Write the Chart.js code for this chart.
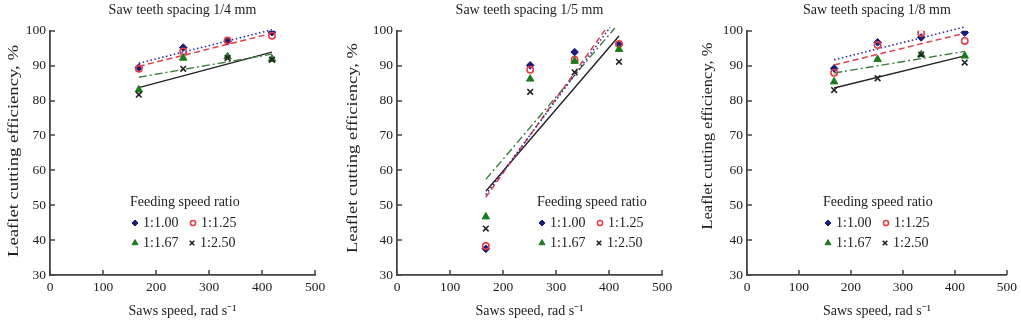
<!DOCTYPE html>
<html>
<head>
<meta charset="utf-8">
<script src="https://cdn.jsdelivr.net/npm/chart.js@4.4.1/dist/chart.umd.min.js"></script>
<style>
  body { margin: 0; background: #fff; }
  #wrap { position: relative; width: 1021px; height: 322px; }
  .panel { position: absolute; top: 0; height: 322px; }
</style>
</head>
<body>
<div id="wrap">
  <div class="panel" style="left:0;width:340px"><canvas id="c0"></canvas></div>
  <div class="panel" style="left:340px;width:340px"><canvas id="c1"></canvas></div>
  <div class="panel" style="left:680px;width:341px"><canvas id="c2"></canvas></div>
</div>
<script>
// saws speed, rad/s
const speeds = [167.6, 251.3, 335.1, 418.9];
const ratios = ["1:1.00", "1:1.25", "1:1.67", "1:2.50"];
const titles = ["Saw teeth spacing 1/4 mm", "Saw teeth spacing 1/5 mm", "Saw teeth spacing 1/8 mm"];

// leaflet cutting efficiency, % - spacing 1/4 mm
const s4r100 = [89.5, 95.2, 97.0, 99.6];
const s4r125 = [89.1, 94.1, 97.2, 98.6];
const s4r167 = [83.1, 92.2, 92.6, 91.9];
const s4r250 = [81.7, 89.1, 92.2, 91.7];
// spacing 1/5 mm
const s5r100 = [37.5, 90.1, 93.9, 96.0];
const s5r125 = [38.3, 88.8, 91.7, 96.2];
const s5r167 = [46.7, 86.2, 91.3, 94.7];
const s5r250 = [43.3, 82.5, 88.1, 91.1];
// spacing 1/8 mm
const s8r100 = [89.2, 96.7, 98.1, 99.5];
const s8r125 = [88.0, 95.9, 99.4, 97.1];
const s8r167 = [85.4, 91.8, 93.2, 92.8];
const s8r250 = [83.0, 86.4, 93.2, 90.9];

// trend lines, start and end
const tX = [167.6, 418.9];
const t4r100 = [90.7, 100.3];
const t4r125 = [89.8, 99.3];
const t4r167 = [86.7, 93.3];
const t4r250 = [83.7, 93.9];

const t5x100 = [167.6, 402];
const t5r100 = [53.0, 101.0];
const t5x125 = [167.6, 396];
const t5r125 = [52.3, 101.0];
const t5x167 = [167.6, 411];
const t5r167 = [57.4, 100.8];
const t5r250 = [54.0, 98.5];

const t8r100 = [91.7, 101.1];
const t8r125 = [90.2, 99.3];
const t8r167 = [87.9, 94.1];
const t8r250 = [83.6, 92.8];

const FONT = '"Liberation Serif", "Times New Roman", serif';
const INK = "#222";

const markers = [
  { pointStyle: "rectRot", radius: 3.8, bg: "#1b1b78", border: "#1b1b78", bw: 1 },
  { pointStyle: "circle", radius: 3.2, bg: "rgba(0,0,0,0)", border: "#e0404c", bw: 1.6 },
  { pointStyle: "triangle", radius: 4.3, bg: "#1e7a1e", border: "#1e7a1e", bw: 1 },
  { pointStyle: "crossRot", radius: 4, bg: "#222", border: "#222", bw: 1.6 }
];
const lines = [
  { color: "#2b2ba0", dash: [1.5, 2.5], w: 1.6 },
  { color: "#e0404c", dash: [6, 3.5], w: 1.5 },
  { color: "#3d7d3d", dash: [8, 3, 2, 3], w: 1.4 },
  { color: "#222", dash: [], w: 1.4 }
];

function pts(xs, ys) {
  return xs.map((x, i) => ({ x: x, y: ys[i] }));
}

const legendPlugin = {
  id: "ratioLegend",
  afterDraw(chart, args, opts) {
    const ctx = chart.ctx;
    const L = opts.left, T = opts.top;
    ctx.save();
    ctx.font = "14px " + FONT;
    ctx.textBaseline = "middle";
    ctx.textAlign = "left";
    ctx.fillStyle = INK;
    ctx.fillText("Feeding speed ratio", L, T);
    const cells = [[L + 5, T + 21], [L + 63, T + 21], [L + 5, T + 41], [L + 62, T + 41]];
    ratios.forEach((lab, i) => {
      const m = markers[i];
      const mx = cells[i][0], my = cells[i][1];
      ctx.fillStyle = m.bg;
      ctx.strokeStyle = m.border;
      ctx.lineWidth = m.bw;
      Chart.helpers.drawPoint(ctx, { pointStyle: m.pointStyle, radius: m.radius * 0.8, borderWidth: m.bw, rotation: 0 }, mx, my);
      ctx.fillStyle = INK;
      ctx.fillText(lab, mx + 8, my + 0.5);
    });
    ctx.restore();
  }
};

const innerTicks = {
  id: "innerTicks",
  afterDraw(chart) {
    const ctx = chart.ctx;
    const xs = chart.scales.x, ys = chart.scales.y;
    ctx.save();
    ctx.strokeStyle = "#444";
    ctx.lineWidth = 1.5;
    ctx.beginPath();
    xs.ticks.forEach(t => {
      const px = Math.round(xs.getPixelForValue(t.value));
      ctx.moveTo(px, ys.bottom);
      ctx.lineTo(px, ys.bottom - 5);
    });
    ys.ticks.forEach(t => {
      const py = Math.round(ys.getPixelForValue(t.value));
      ctx.moveTo(xs.left, py);
      ctx.lineTo(xs.left + 5, py);
    });
    ctx.stroke();
    ctx.restore();
  }
};

const yTitle = {
  id: "yTitle",
  afterDraw(chart, args, opts) {
    const ctx = chart.ctx;
    const text = "Leaflet cutting efficiency, %";
    ctx.save();
    ctx.font = "14px " + FONT;
    ctx.fillStyle = INK;
    ctx.textAlign = "center";
    ctx.textBaseline = "middle";
    const w = ctx.measureText(text).width;
    ctx.translate(opts.x, opts.y);
    ctx.rotate(-Math.PI / 2);
    ctx.scale(opts.len / w, 1);
    ctx.fillText(text, 0, 0);
    ctx.restore();
  }
};

function makePanel(id, title, series, trends, lay) {
  const datasets = [];
  series.forEach((ys, i) => {
    const m = markers[i];
    datasets.push({
      label: ratios[i],
      data: pts(speeds, ys),
      showLine: false,
      pointStyle: m.pointStyle,
      pointRadius: m.radius,
      pointBackgroundColor: m.bg,
      pointBorderColor: m.border,
      pointBorderWidth: m.bw,
      order: 4 - i
    });
  });
  trends.forEach((t, i) => {
    const l = lines[i];
    datasets.push({
      label: ratios[i] + " fit",
      data: pts(t[0], t[1]),
      showLine: true,
      pointRadius: 0,
      borderColor: l.color,
      borderWidth: l.w,
      borderDash: l.dash,
      fill: false,
      clip: false,
      order: 10
    });
  });

  new Chart(document.getElementById(id), {
    type: "scatter",
    data: { datasets: datasets },
    options: {
      responsive: true,
      maintainAspectRatio: false,
      animation: false,
      layout: { padding: { left: 0, right: lay.right, top: 0, bottom: 0 } },
      plugins: {
        legend: { display: false },
        tooltip: { enabled: false },
        title: {
          display: true,
          text: title,
          fullSize: false,
          color: INK,
          font: { family: FONT, size: 14, weight: "normal" },
          padding: { top: 2, bottom: 12 }
        },
        ratioLegend: { left: lay.legL, top: 202 },
        yTitle: { x: lay.yTx, y: lay.yTy, len: lay.yTlen }
      },
      scales: {
        x: {
          type: "linear",
          min: 0,
          max: 500,
          ticks: { stepSize: 100, color: INK, font: { family: FONT, size: 13.5 }, padding: 4, maxRotation: 0 },
          grid: { display: false, drawTicks: false, tickLength: 0 },
          border: { display: true, color: "#444", width: 1.8 },
          title: {
            display: true,
            text: "Saws speed, rad s\u207B\u00B9",
            color: INK,
            font: { family: FONT, size: 14 },
            padding: { top: 0, bottom: 2 }
          },
          afterFit(s) { s.height = 47; }
        },
        y: {
          type: "linear",
          min: 30,
          max: 100,
          ticks: { stepSize: 10, color: INK, font: { family: FONT, size: 13.5 }, padding: 4 },
          grid: { display: false, drawTicks: false, tickLength: 0 },
          border: { display: true, color: "#444", width: 1.8 },
          afterFit(s) { s.width = lay.yW; }
        }
      }
    },
    plugins: [innerTicks, legendPlugin, yTitle]
  });
}

makePanel("c0", titles[0],
  [s4r100, s4r125, s4r167, s4r250],
  [[tX, t4r100], [tX, t4r125], [tX, t4r167], [tX, t4r250]],
  { yW: 50, right: 25, legL: 130, yTx: 14, yTy: 151, yTlen: 212 });

makePanel("c1", titles[1],
  [s5r100, s5r125, s5r167, s5r250],
  [[t5x100, t5r100], [t5x125, t5r125], [t5x167, t5r167], [tX, t5r250]],
  { yW: 57, right: 18, legL: 197, yTx: 13, yTy: 148, yTlen: 210 });

makePanel("c2", titles[2],
  [s8r100, s8r125, s8r167, s8r250],
  [[tX, t8r100], [tX, t8r125], [tX, t8r167], [tX, t8r250]],
  { yW: 67, right: 11, legL: 143, yTx: 28, yTy: 136, yTlen: 187 });
</script>
</body>
</html>
